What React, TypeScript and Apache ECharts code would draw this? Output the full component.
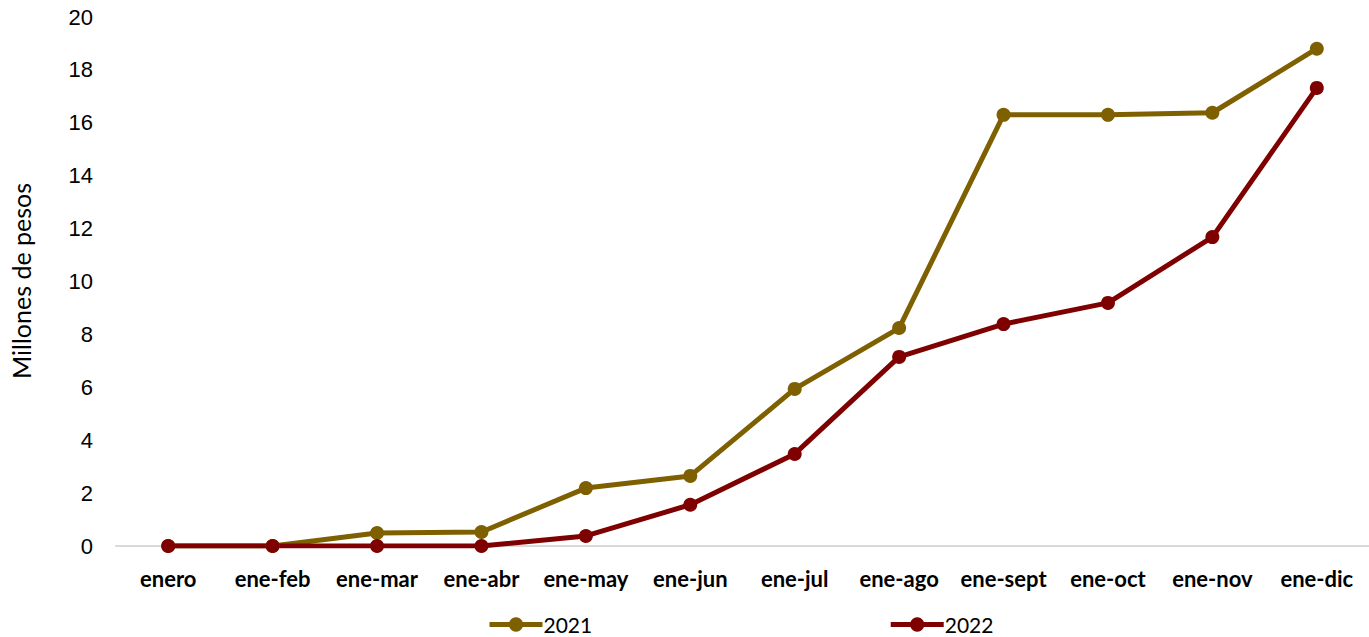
import React, { useEffect, useRef } from "react";
import * as echarts from "echarts";

const categories = ["enero", "ene-feb", "ene-mar", "ene-abr", "ene-may", "ene-jun", "ene-jul", "ene-ago", "ene-sept", "ene-oct", "ene-nov", "ene-dic"];
const values2021 = [0, 0, 0.49, 0.53, 2.19, 2.65, 5.94, 8.24, 16.3, 16.3, 16.38, 18.8];
const values2022 = [0, 0, 0, 0, 0.38, 1.56, 3.48, 7.15, 8.39, 9.19, 11.68, 17.32];
const seriesNames = ["2021", "2022"];
const yTitle = "Millones de pesos";

export default function App() {
  const ref = useRef<HTMLDivElement>(null);
  useEffect(() => {
    if (!ref.current) return;
    const chart = echarts.init(ref.current, null, { renderer: "svg" });
    const textFont = "Lato, 'Open Sans', sans-serif";
    chart.setOption({
      animation: false,
      backgroundColor: "#ffffff",
      grid: { left: 116, top: 17, width: 1257, height: 529, containLabel: false },
      xAxis: {
        type: "category",
        data: categories,
        boundaryGap: true,
        axisLine: { lineStyle: { color: "#d9d9d9", width: 2 } },
        axisTick: { show: false },
        axisLabel: { interval: 0, color: "#000", fontFamily: textFont, fontWeight: "bold", fontSize: 22, margin: 21 },
        splitLine: { show: false },
      },
      yAxis: {
        type: "value",
        min: 0,
        max: 20,
        interval: 2,
        axisLine: { show: false },
        axisTick: { show: false },
        splitLine: { show: false },
        axisLabel: { color: "#000", fontFamily: "'Liberation Sans', Arial, sans-serif", fontSize: 22, margin: 23 },
      },
      legend: {
        top: 614,
        left: 487,
        padding: 0,
        itemGap: 296,
        itemWidth: 53,
        itemHeight: 18,
        lineStyle: { width: 5 },
        textStyle: { color: "#000", fontFamily: textFont, fontSize: 21, lineHeight: 21, padding: [0, 0, 0, -4] },
        data: seriesNames,
      },
      graphic: [
        {
          type: "text",
          x: 21,
          y: 281,
          rotation: Math.PI / 2,
          style: { text: yTitle, fill: "#000", font: `25px ${textFont}`, textAlign: "center", textVerticalAlign: "middle" },
        },
      ],
      series: [
        {
          name: seriesNames[0],
          type: "line",
          data: values2021,
          symbol: "circle",
          symbolSize: 14,
          itemStyle: { color: "#7F6000" },
          lineStyle: { color: "#7F6000", width: 5 },
        },
        {
          name: seriesNames[1],
          type: "line",
          data: values2022,
          symbol: "circle",
          symbolSize: 14,
          itemStyle: { color: "#7F0000" },
          lineStyle: { color: "#7F0000", width: 5 },
        },
      ],
    });
    return () => chart.dispose();
  }, []);
  return <div ref={ref} style={{ position: "fixed", left: 0, top: 0, width: 1369, height: 637 }} />;
}
